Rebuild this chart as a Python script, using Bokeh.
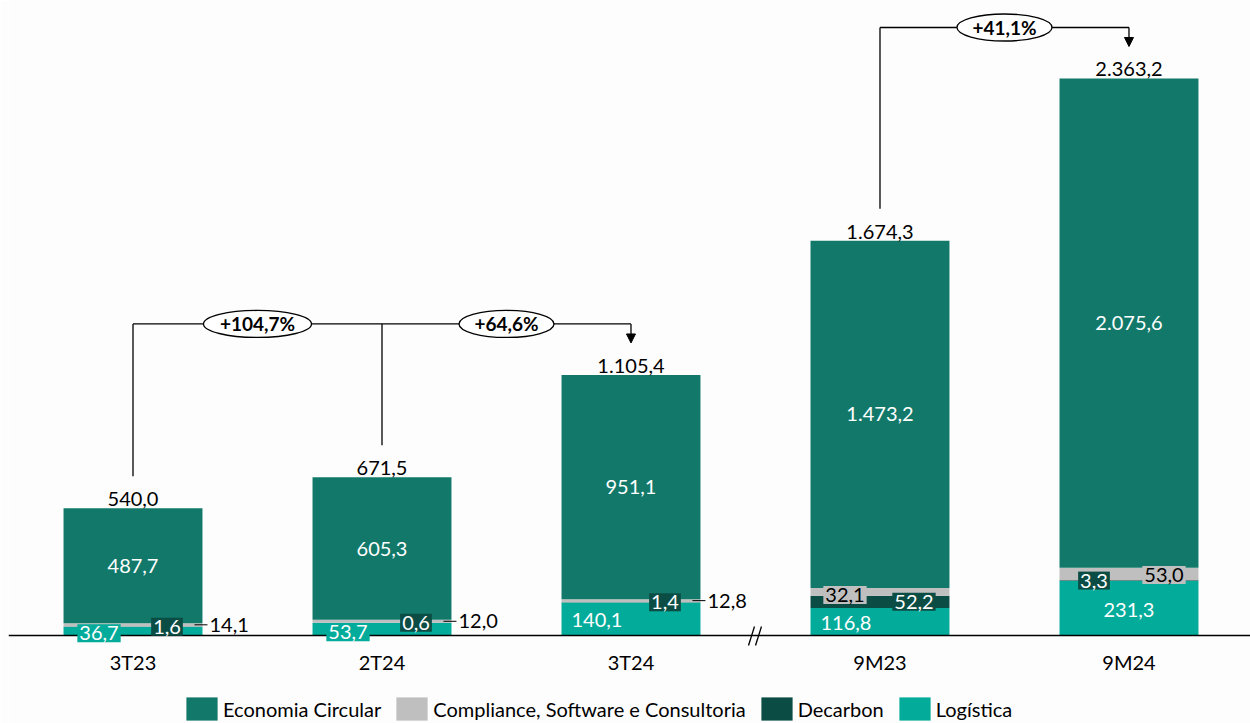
from bokeh.plotting import figure
from bokeh.models import (ColumnDataSource, Range1d, Legend, LegendItem,
                          Arrow, NormalHead)
from bokeh.core.properties import value
from bokeh.embed import file_html
from bokeh.resources import INLINE

# ---------------- data ----------------
categories = ["3T23", "2T24", "3T24", "9M23", "9M24"]
logistica = [36.7, 53.7, 140.1, 116.8, 231.3]
decarbon = [1.6, 0.6, 1.4, 52.2, 3.3]
compliance = [14.1, 12.0, 12.8, 32.1, 53.0]
economia = [487.7, 605.3, 951.1, 1473.2, 2075.6]
totals = [540.0, 671.5, 1105.4, 1674.3, 2363.2]
legend_labels = ["Economia Circular", "Compliance, Software e Consultoria", "Decarbon", "Logística"]

# comparisons: (from indices, to index)
comparisons = [([0, 1], 2), ([3], 4)]
break_after = 2  # axis break between 3T24 and 9M23

# ---------------- style ----------------
C_EC = "#12796A"
C_COMP = "#BFBFBF"
C_DEC = "#0B4D45"
C_LOG = "#03AB9A"
BG = "#FDFDFD"
FONT = "Lato"

W, H = 1250, 723
LEFT = 8
BASE_PX = 635            # baseline position from top
FRAME_W = W - LEFT
X0, X1 = -0.5, 4.488
PX_X = FRAME_W / (X1 - X0)   # px per x unit
PX_Y = 0.2357                # px per y unit
Y1 = BASE_PX / PX_Y
Y0 = -(H - BASE_PX) / PX_Y
BAR_W = 0.558


def fmt(v):
    s = f"{v:,.1f}"
    return s.replace(",", "X").replace(".", ",").replace("X", ".")


xs = list(range(len(categories)))
src = ColumnDataSource(dict(x=xs, log=logistica, dec=decarbon, comp=compliance, ec=economia))

p = figure(width=W, height=H, x_range=Range1d(X0, X1), y_range=Range1d(Y0, Y1),
           output_backend="svg", toolbar_location=None, y_axis_location=None,
           x_axis_location=None,
           min_border_left=LEFT, min_border_right=0, min_border_top=0,
           min_border_bottom=0)
p.background_fill_color = BG
p.border_fill_color = BG
p.outline_line_color = None
p.xgrid.visible = False
p.ygrid.visible = False

rs = p.vbar_stack(["log", "dec", "comp", "ec"], x="x", width=BAR_W, source=src,
                  fill_color=[C_LOG, C_DEC, C_COMP, C_EC], line_color=None)

# baseline (category axis line)
p.segment(x0=[X0], y0=[0], x1=[X1], y1=[0], line_color="black", line_width=1.5)

# axis break mark "//"
bx = break_after + 0.5
for dx in (-4, 3):
    p.segment(x0=[bx + (dx - 3) / PX_X], y0=[-10 / PX_Y],
              x1=[bx + (dx + 3) / PX_X], y1=[9 / PX_Y],
              line_color="black", line_width=1.3)

# category labels
p.text(x=xs, y=[0] * len(xs), text=categories, y_offset=26, text_align="center",
       text_baseline="middle", text_font=value(FONT), text_font_size="20px",
       text_color="black")

# segment centres
log_c, dec_c, comp_c, ec_c = [], [], [], []
for i in xs:
    b0 = 0
    log_c.append(b0 + logistica[i] / 2); b0 += logistica[i]
    dec_c.append(b0 + decarbon[i] / 2); b0 += decarbon[i]
    comp_c.append(b0 + compliance[i] / 2); b0 += compliance[i]
    ec_c.append(b0 + economia[i] / 2)

# total labels
p.text(x=xs, y=totals, text=[fmt(v) for v in totals], y_offset=-9,
       text_align="center", text_baseline="alphabetic", text_font=value(FONT),
       text_font_size="20px", text_color="black")

# Economia Circular labels
p.text(x=xs, y=ec_c, text=[fmt(v) for v in economia], text_align="center",
       text_baseline="middle", text_font=value(FONT), text_font_size="20px",
       text_color="white")

# Logística labels (box in bar colour)
log_off = [-34, -34, -34, -34, 0]
log_yoff = [2, 3, 1, 1, 2]
p.text(x=xs, y=log_c, text=[fmt(v) for v in logistica], x_offset=log_off, y_offset=log_yoff,
       text_align="center", text_baseline="middle", text_font=value(FONT),
       text_font_size="20px", text_color="white",
       background_fill_color=C_LOG, padding=2)

# Decarbon labels (dark box)
dec_off = [34, 34, 34, 34, -35]
p.text(x=xs, y=dec_c, text=[fmt(v) for v in decarbon], x_offset=dec_off,
       text_align="center", text_baseline="middle", text_font=value(FONT),
       text_font_size="20px", text_color="white",
       background_fill_color=C_DEC, padding=2)

# Compliance labels: outside (small bars) and inside grey boxes
out_idx = [0, 1, 2]
in_idx = [3, 4]
in_off = [-35, 35]
in_yoff = [3, 1]
edge = BAR_W / 2
p.segment(x0=[i + edge - 8 / PX_X for i in out_idx], y0=[comp_c[i] for i in out_idx],
          x1=[i + edge + 5 / PX_X for i in out_idx], y1=[comp_c[i] for i in out_idx],
          line_color="black", line_width=1)
p.text(x=[i + edge + 7 / PX_X for i in out_idx], y=[comp_c[i] for i in out_idx],
       text=[fmt(compliance[i]) for i in out_idx], text_align="left",
       text_baseline="middle", text_font=value(FONT), text_font_size="20px",
       text_color="black")
p.text(x=in_idx, y=[comp_c[i] for i in in_idx], text=[fmt(compliance[i]) for i in in_idx],
       x_offset=in_off, y_offset=in_yoff, text_align="center", text_baseline="middle",
       text_font=value(FONT), text_font_size="20px", text_color="black",
       background_fill_color=C_COMP, padding=2)

# growth brackets
ell_x, ell_y, ell_w, ell_t = [], [], [], []
for froms, to in comparisons:
    top = max(totals[k] for k in froms + [to])
    by = top + 51 / PX_Y
    for k in froms:
        p.segment(x0=[k], y0=[totals[k] + 32 / PX_Y], x1=[k], y1=[by],
                  line_color="black", line_width=1.3)
    p.segment(x0=[min(froms)], y0=[by], x1=[to], y1=[by], line_color="black", line_width=1.3)
    p.add_layout(Arrow(x_start=to, y_start=by, x_end=to, y_end=totals[to] + 32 / PX_Y,
                       line_color="black", line_width=1.3,
                       end=NormalHead(size=9, fill_color="black", line_color="black")))
    for k in froms:
        pct = (totals[to] / totals[k] - 1) * 100
        t = "+" + f"{pct:.1f}".replace(".", ",") + "%"
        nxt = min([j for j in froms if j > k] + [to])
        ell_x.append((k + nxt) / 2)
        ell_y.append(by)
        ell_t.append(t)
        ell_w.append(13 * len(t) + 17)

p.ellipse(x=ell_x, y=ell_y, width=ell_w, height=27, width_units="screen",
          height_units="screen", fill_color="white", line_color="black", line_width=1.3)
p.text(x=ell_x, y=ell_y, text=ell_t, text_align="center", text_baseline="middle",
       text_font=value(FONT), text_font_size="19px", text_font_style="bold",
       text_color="black")

# legend
order = [3, 2, 1, 0]
items = [LegendItem(label=legend_labels[n], renderers=[rs[o]]) for n, o in enumerate(order)]
legend = Legend(items=items, orientation="horizontal", location=(174, 0),
                glyph_width=39, glyph_height=29, label_standoff=2, spacing=11,
                label_text_font=FONT, label_text_font_size="20px",
                label_text_color="black", border_line_color=None,
                background_fill_alpha=0, padding=0, margin=0)
p.add_layout(legend)

open("out.html", "w").write(file_html(p, INLINE))
